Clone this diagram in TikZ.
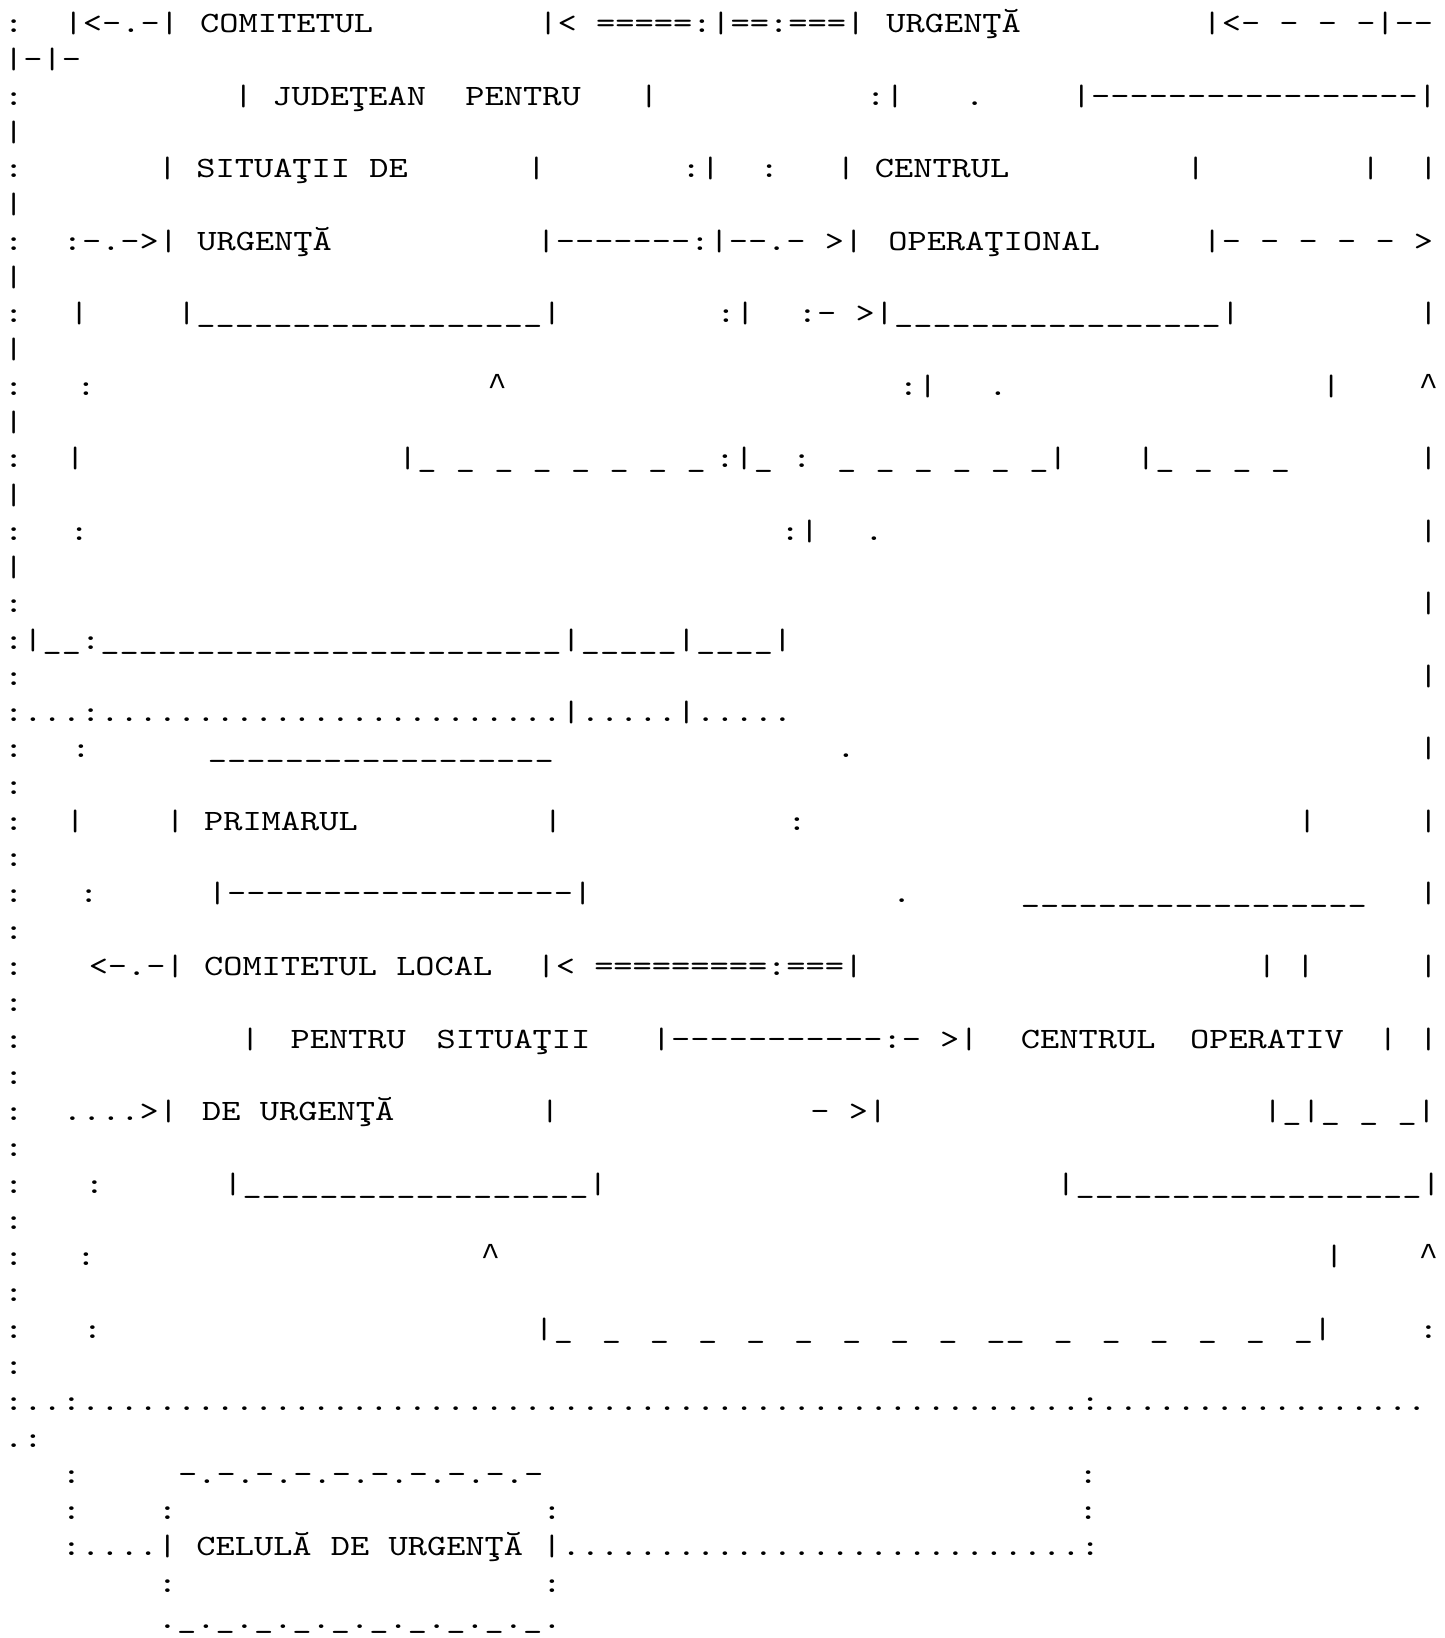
\documentclass[tikz,border=0pt]{standalone}
\usepackage{fontspec}
\newfontfamily\cmono{lmmono10-regular.otf}[FakeStretch=1.241]
\newfontfamily\lmono{Liberation Mono}
\newcounter{tk}
\newcommand{\RepC}[2]{\foreach \rpi in {1,...,#1}{#2}}
\newcommand{\Dsh}[1]{\RepC{#1}{-}}
\newcommand{\Und}[1]{\RepC{#1}{\_}}
\newcommand{\Dts}[1]{\RepC{#1}{.}}
\newcommand{\Crt}{{\lmono\fontsize{16pt}{18pt}\selectfont\textasciicircum}}
\newcommand{\Tok}[3]{\stepcounter{tk}\node[tx] (t\arabic{tk}) at ({4.19+19.22*(#2)},{32.5+36.27*((#1)-1)}) {#3};}
\begin{document}
\begin{tikzpicture}[x=0.5pt,y=-0.5pt,
  tx/.style={anchor=base west, inner sep=0pt, outer sep=0pt,
    font={\cmono\fontsize{14.75pt}{18pt}\selectfont\spaceskip=9.61pt\relax}}]
\fill[white] (0,0) rectangle (1445,1638);
\useasboundingbox (0,0) rectangle (1445,1638);
\Tok{1}{0}{:}
\Tok{1}{3.1}{|<-.-|}
\Tok{1}{10.2}{COMITETUL}
\Tok{1}{27.8}{|< =====:|==:===|}
\Tok{1}{45.9}{URGENŢĂ}
\Tok{1}{62.35}{|<- - - -|-{}-}
\Tok{2}{0}{|-|-}
\Tok{3}{0}{:}
\Tok{3}{11.95}{| JUDEŢEAN}
\Tok{3}{24}{PENTRU}
\Tok{3}{33.05}{|}
\Tok{3}{44.85}{:|}
\Tok{3}{50}{.}
\Tok{3}{55.55}{|\Dsh{17}|}
\Tok{4}{0}{|}
\Tok{5}{0}{:}
\Tok{5}{8}{| SITUAŢII DE}
\Tok{5}{27.2}{|}
\Tok{5}{35.25}{:|}
\Tok{5}{39.3}{:}
\Tok{5}{43.3}{| CENTRUL}
\Tok{5}{61.5}{|}
\Tok{5}{70.6}{|}
\Tok{5}{73.6}{|}
\Tok{6}{0}{|}
\Tok{7}{0}{:}
\Tok{7}{3.05}{:-.->| URGENŢĂ}
\Tok{7}{27.7}{|\Dsh{7}:|-{}-.- >|}
\Tok{7}{46}{OPERAŢIONAL}
\Tok{7}{62.35}{|- - - - - >}
\Tok{8}{0}{|}
\Tok{9}{0}{:}
\Tok{9}{3.4}{|}
\Tok{9}{9}{|\Und{18}|}
\Tok{9}{37.05}{:|}
\Tok{9}{41.3}{:- >|\Und{17}|}
\Tok{9}{73.6}{|}
\Tok{10}{0}{|}
\Tok{11}{0}{:}
\Tok{11}{3.75}{:}
\Tok{11}{25.15}{\Crt}
\Tok{11}{46.55}{:|}
\Tok{11}{51.2}{.}
\Tok{11}{68.55}{|}
\Tok{11}{73.6}{\Crt}
\Tok{12}{0}{|}
\Tok{13}{0}{:}
\Tok{13}{3.2}{|}
\Tok{13}{20.5}{|\_ \_ \_ \_ \_ \_ \_ \_}
\Tok{13}{37}{:|\_ : \_ \_ \_ \_ \_ \_|}
\Tok{13}{58.9}{|\_ \_ \_ \_}
\Tok{13}{73.6}{|}
\Tok{14}{0}{|}
\Tok{15}{0}{:}
\Tok{15}{3.4}{:}
\Tok{15}{40.4}{:|}
\Tok{15}{44.75}{.}
\Tok{15}{73.6}{|}
\Tok{16}{0}{|}
\Tok{17}{0}{:}
\Tok{17}{73.6}{|}
\Tok{18}{0}{:|\_\_:\Und{24}|\Und{5}|\Und{4}|}
\Tok{19}{0}{:}
\Tok{19}{73.6}{|}
\Tok{20}{0}{:...:\Dts{24}|.....|.....}
\Tok{21}{0}{:}
\Tok{21}{3.5}{:}
\Tok{21}{10.6}{\Und{18}}
\Tok{21}{43.3}{.}
\Tok{21}{73.6}{|}
\Tok{22}{0}{:}
\Tok{23}{0}{:}
\Tok{23}{3.2}{|}
\Tok{23}{8.4}{| PRIMARUL}
\Tok{23}{28.05}{|}
\Tok{23}{40.75}{:}
\Tok{23}{67.3}{|}
\Tok{23}{73.6}{|}
\Tok{24}{0}{:}
\Tok{25}{0}{:}
\Tok{25}{3.9}{:}
\Tok{25}{10.6}{|\Dsh{18}|}
\Tok{25}{46.2}{.}
\Tok{25}{52.9}{\Und{18}}
\Tok{25}{73.6}{|}
\Tok{26}{0}{:}
\Tok{27}{0}{:}
\Tok{27}{4.4}{<-.-| COMITETUL LOCAL}
\Tok{27}{27.7}{|< =========:===|}
\Tok{27}{65.2}{|}
\Tok{27}{67.2}{|}
\Tok{27}{73.6}{|}
\Tok{28}{0}{:}
\Tok{29}{0}{:}
\Tok{29}{12.3}{|}
\Tok{29}{14.9}{PENTRU}
\Tok{29}{22.5}{SITUAŢII}
\Tok{29}{33.7}{|\Dsh{11}:- >|}
\Tok{29}{52.9}{CENTRUL}
\Tok{29}{61.7}{OPERATIV}
\Tok{29}{71.5}{|}
\Tok{29}{73.6}{|}
\Tok{30}{0}{:}
\Tok{31}{0}{:}
\Tok{31}{3.05}{....>|}
\Tok{31}{10.3}{DE URGENŢĂ}
\Tok{31}{27.9}{|}
\Tok{31}{41.95}{- >|}
\Tok{31}{65.5}{|\_|\_ \_ \_|}
\Tok{32}{0}{:}
\Tok{33}{0}{:}
\Tok{33}{4.2}{:}
\Tok{33}{11.4}{|\Und{18}|}
\Tok{33}{54.75}{|\Und{18}|}
\Tok{34}{0}{:}
\Tok{35}{0}{:}
\Tok{35}{3.75}{:}
\Tok{35}{24.8}{\Crt}
\Tok{35}{68.7}{|}
\Tok{35}{73.6}{\Crt}
\Tok{36}{0}{:}
\Tok{37}{0}{:}
\Tok{37}{4.1}{:}
\Tok{37}{27.6}{|}
\foreach \k in {0,...,9}{\Tok{37}{28.6+2.5*\k}{\_}}
\Tok{37}{52.1}{\_}
\foreach \k in {0,...,5}{\Tok{37}{54.6+2.5*\k}{\_}}
\Tok{37}{68.1}{|}
\Tok{37}{73.6}{:}
\Tok{38}{0}{:}
\Tok{39}{0}{:..:\Dts{52}:\Dts{17}}
\Tok{40}{0}{.:}
\Tok{41}{3}{:}
\Tok{41}{9.05}{-.-.-.-.-.-.-.-.-.-}
\Tok{41}{55.9}{:}
\Tok{42}{3}{:}
\Tok{42}{8}{:}
\Tok{42}{28}{:}
\Tok{42}{55.9}{:}
\Tok{43}{3}{:....| CELULĂ DE URGENŢĂ |\Dts{27}:}
\Tok{44}{8}{:}
\Tok{44}{28}{:}
\Tok{45}{8}{.\_.\_.\_.\_.\_.\_.\_.\_.\_.\_.}
\end{tikzpicture}
\end{document}
